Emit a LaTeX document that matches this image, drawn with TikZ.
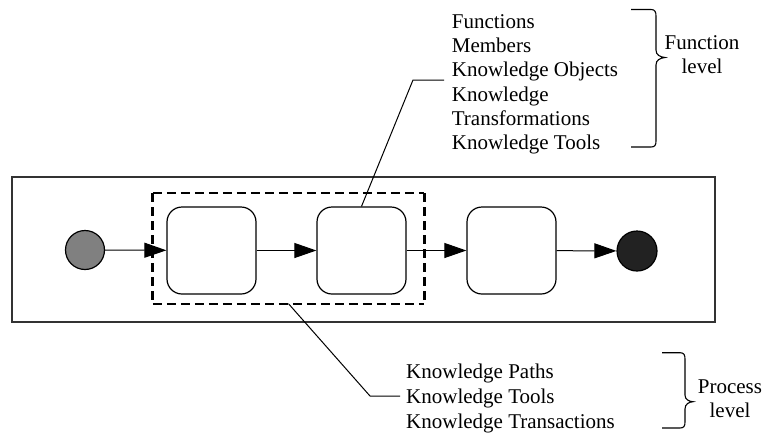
\documentclass[tikz,border=0pt]{standalone}
\usepackage{fontspec}
\setmainfont{Liberation Serif}
\newfontfamily\labelfont{Liberation Serif}
\usetikzlibrary{arrows.meta}
\definecolor{startgray}{HTML}{808080}
\definecolor{endgray}{HTML}{222222}
\definecolor{framegray}{HTML}{333333}
\begin{document}
\begin{tikzpicture}[x=1pt,y=-1pt,
  every node/.style={font=\labelfont\fontsize{21}{24}\selectfont},
  label/.style={inner sep=0pt, anchor=base west},
  clabel/.style={inner sep=0pt, anchor=base},
  activity/.style={draw, line width=1.2pt, rounded corners=15pt,
    minimum width=89pt, minimum height=87pt, inner sep=0pt},
  terminal/.style={draw, circle, line width=1.2pt, inner sep=0pt},
  flow/.style={line width=1pt, -{Triangle[length=22pt,width=15pt]}},
  leader/.style={line width=1pt},
  brace/.style={line width=1.1pt},
  groupline/.style={dashed, dash pattern=on 9pt off 5pt}
]
\useasboundingbox (0,0) rectangle (764,432);

% process frame
\node[draw=framegray, line width=1.2pt, minimum width=703pt, minimum height=145pt,
  inner sep=0pt] (frame) at (363.5,249.5) {};

% dashed group around the first two activities: thin top/bottom, heavy sides
\node[minimum width=271pt, minimum height=110pt, inner sep=0pt] (group) at (288.5,248.5) {};
\draw[groupline, line width=2pt] (group.north west) -- (group.north east);
\draw[groupline, line width=2pt] (group.south west) -- (group.south east);
\draw[groupline, line width=3pt] (group.north west) -- (group.south west);
\draw[groupline, line width=3pt] (group.north east) -- (group.south east);

% start / end states
\node[terminal, fill=startgray, minimum size=39pt] (start) at (85,250) {};
\node[terminal, fill=endgray, minimum size=40pt] (end) at (637,251) {};

% activities
\node[activity] (a1) at (211.5,250.5) {};
\node[activity] (a2) at (361.5,250.5) {};
\node[activity] (a3) at (511.5,250.5) {};

% control flow
\draw[flow] (start) -- (a1);
\draw[flow] (a1) -- (a2);
\draw[flow] (a2) -- (a3);
\draw[flow] (a3) -- (end);

% function level texts
\node[label] (f1) at (451.7,28) {Functions};
\node[label] (f2) at (451.7,52.3) {Members};
\node[label] (f3) at (451.7,76.6) {Knowledge Objects};
\node[label] (f4) at (451.7,101) {Knowledge};
\node[label] (f5) at (451.7,125.2) {Transformations};
\node[label] (f6) at (451.7,149.5) {Knowledge Tools};

% process level texts
\node[label] (p1) at (406,378.3) {Knowledge Paths};
\node[label] (p2) at (406,403.3) {Knowledge Tools};
\node[label] (p3) at (406,428.3) {Knowledge Transactions};

% level captions
\node[clabel] (fl1) at (702,49) {Function};
\node[clabel] (fl2) at (702,73) {level};
\node[clabel] (pl1) at (730,393) {Process};
\node[clabel] (pl2) at (730,417) {level};

% leader lines
\coordinate (tbend) at (413,80);
\coordinate (tend) at (444,80);
\draw[leader] (a2.north) -- (tbend) -- (tend);
\coordinate (bbend) at (370,396);
\coordinate (bend) at (400,396);
\draw[leader] (group.south) -- (bbend) -- (bend);

% braces
\draw[brace] (631,9.5) -- (651,9.5) .. controls (655,9.5) and (656,12) .. (656,16)
  -- (656,50) .. controls (656,55) and (660,57) .. (665,57.5)
  .. controls (660,58) and (656,60) .. (656,65)
  -- (656,141) .. controls (656,145) and (655,147) .. (651,147) -- (631,147);
\draw[brace] (662,352.7) -- (680,352.7) .. controls (684,352.7) and (685,355) .. (685,359)
  -- (685,395) .. controls (685,399.5) and (689,401.5) .. (693,401.7)
  .. controls (689,402) and (685,404) .. (685,409)
  -- (685,422) .. controls (685,426) and (684,428) .. (680,428) -- (662,428);
\end{tikzpicture}
\end{document}
